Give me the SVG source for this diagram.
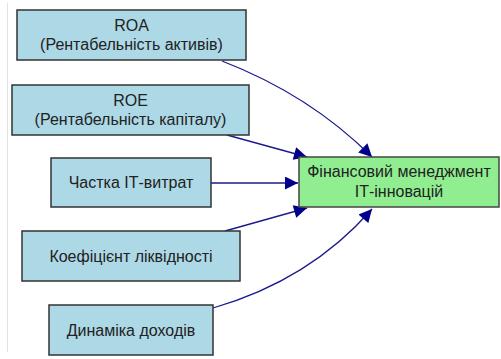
<svg xmlns="http://www.w3.org/2000/svg" width="501" height="359" viewBox="0 0 501 359">
<style>
.box{fill:#ADD8E6;stroke:#333;stroke-width:1.5}
.goal{fill:#90EE90;stroke:#444;stroke-width:1.5}
text{font-family:"Liberation Sans",Arial,sans-serif;font-size:16px;fill:#222;text-anchor:middle}
.edge{fill:none;stroke:#1a1a8c;stroke-width:1.3;marker-end:url(#ah)}
</style>
<defs>
<marker id="ah" viewBox="0 0 10 10" refX="10" refY="5" markerWidth="14" markerHeight="13" markerUnits="userSpaceOnUse" orient="auto">
<path d="M0,0 L10,5 L0,10 z" fill="#00008B"/>
</marker>
</defs>
<rect width="501" height="359" fill="#fff"/>
<line x1="7.5" y1="3" x2="7.5" y2="352" stroke="#e2e2e2" stroke-width="1"/>
<g id="connectors">
<path class="edge" d="M222,61 Q310,95 372,157"/>
<path class="edge" d="M227,135 L307,157"/>
<path class="edge" d="M211,183 L298,183"/>
<path class="edge" d="M225,231 L307,208"/>
<path class="edge" d="M213,308 Q310,280 372,209"/>
</g>
<g id="roa">
<rect class="box" x="17" y="10" width="229" height="50"/>
<text x="131.5" y="31">ROA</text>
<text x="131.5" y="50">(Рентабельність активів)</text>
</g>
<g id="roe">
<rect class="box" x="12" y="85" width="237" height="50"/>
<text x="130.5" y="106">ROE</text>
<text x="130.5" y="125">(Рентабельність капіталу)</text>
</g>
<g id="it-share">
<rect class="box" x="51" y="158" width="160" height="49"/>
<text x="131" y="188">Частка ІТ-витрат</text>
</g>
<g id="liquidity">
<rect class="box" x="22" y="231" width="218" height="50"/>
<text x="131" y="262">Коефіцієнт ліквідності</text>
</g>
<g id="income">
<rect class="box" x="49" y="305" width="164" height="50"/>
<text x="131" y="336">Динаміка доходів</text>
</g>
<g id="fin-mgmt">
<rect class="goal" x="299" y="157" width="200" height="50"/>
<text x="399" y="177">Фінансовий менеджмент</text>
<text x="399" y="197">ІТ-інновацій</text>
</g>
</svg>
